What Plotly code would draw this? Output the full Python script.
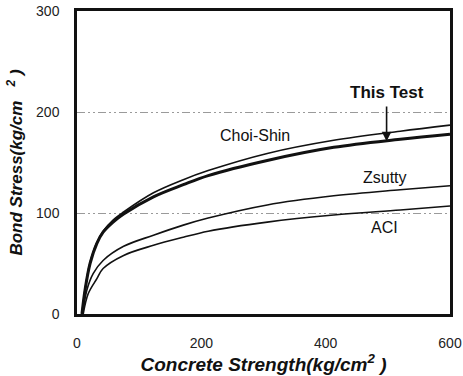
import plotly.graph_objects as go

# Data
choi_x = [8, 13, 21, 32, 42, 58, 75, 123, 171, 211, 306, 413, 520, 600]
choi_y = [0, 25, 51, 71, 82, 93, 101, 120, 133, 142, 159, 172, 181, 187]
test_x = [8, 13, 21, 32, 42, 58, 75, 123, 171, 211, 306, 413, 520, 600]
test_y = [0, 24, 50, 70, 81, 91, 99, 116, 128, 137, 152, 165, 173, 178]
zsutty_x = [9, 16, 26, 42, 75, 123, 171, 211, 306, 413, 520, 600]
zsutty_y = [0, 24, 40, 53, 67, 78, 88, 95, 108, 117, 123, 127]
aci_x = [10, 18, 32, 42, 75, 123, 171, 211, 306, 413, 520, 600]
aci_y = [0, 20, 35, 45, 58, 68, 76, 82, 91, 98, 103, 107]

x_ticks = [0, 200, 400, 600]
y_ticks = [0, 100, 200, 300]

fig = go.Figure()
for xs, ys, w in [(choi_x, choi_y, 1.6), (zsutty_x, zsutty_y, 1.6),
                  (aci_x, aci_y, 1.6), (test_x, test_y, 3.0)]:
    fig.add_trace(go.Scatter(x=xs, y=ys, mode="lines",
                             line=dict(color="#111111", width=w, shape="spline", smoothing=1.0),
                             showlegend=False, hoverinfo="skip"))

lab_font = dict(family="Liberation Sans, Arial, sans-serif", size=16, color="#111111")
fig.add_annotation(x=286, y=177, text="Choi-Shin", showarrow=False, font=lab_font)
fig.add_annotation(x=495, y=135, text="Zsutty", showarrow=False, font=lab_font)
fig.add_annotation(x=495, y=86, text="ACI", showarrow=False, font=lab_font)
fig.add_annotation(x=498, y=219, text="<b>This Test</b>", showarrow=False,
                   font=dict(family="Liberation Sans, Arial, sans-serif", size=17, color="#111111"))
fig.add_annotation(x=498, y=171, ax=498, ay=207, xref="x", yref="y", axref="x", ayref="y",
                   text="", showarrow=True, arrowhead=2, arrowsize=1.2, arrowwidth=1.6,
                   arrowcolor="#111111")

title_font = dict(family="Liberation Sans, Arial, sans-serif", size=19, color="#111111",
                  weight="bold", style="italic")
tick_font = dict(family="Liberation Sans, Arial, sans-serif", size=14, color="#222222")

fig.update_xaxes(range=[0, 600], tickvals=x_ticks, ticktext=[str(v) for v in x_ticks],
                 showline=True, linecolor="#111111", linewidth=2.5, mirror=True,
                 showgrid=False, zeroline=False, ticks="", tickfont=tick_font,
                 ticklabelstandoff=14, automargin=False,
                 title=dict(text="Concrete Strength(kg/cm<sup>2</sup> )", font=title_font, standoff=7))
fig.update_yaxes(range=[0, 300], tickvals=y_ticks, ticktext=[str(v) for v in y_ticks],
                 showline=True, linecolor="#111111", linewidth=2.5, mirror=True,
                 showgrid=True, gridcolor="#9a9a9a", gridwidth=1,
                 griddash="8px,3px,2px,3px,2px,3px", zeroline=False, ticks="",
                 tickfont=tick_font, ticklabelstandoff=12, automargin=False,
                 title=dict(text="Bond Stress(kg/cm&nbsp;&nbsp;&nbsp;<sup>2</sup>&nbsp;)",
                            font=dict(title_font, size=17), standoff=10))

fig.update_layout(width=463, height=376, margin=dict(l=77, r=13, t=11, b=62),
                  plot_bgcolor="white", paper_bgcolor="white")
fig.write_html("out.html")
